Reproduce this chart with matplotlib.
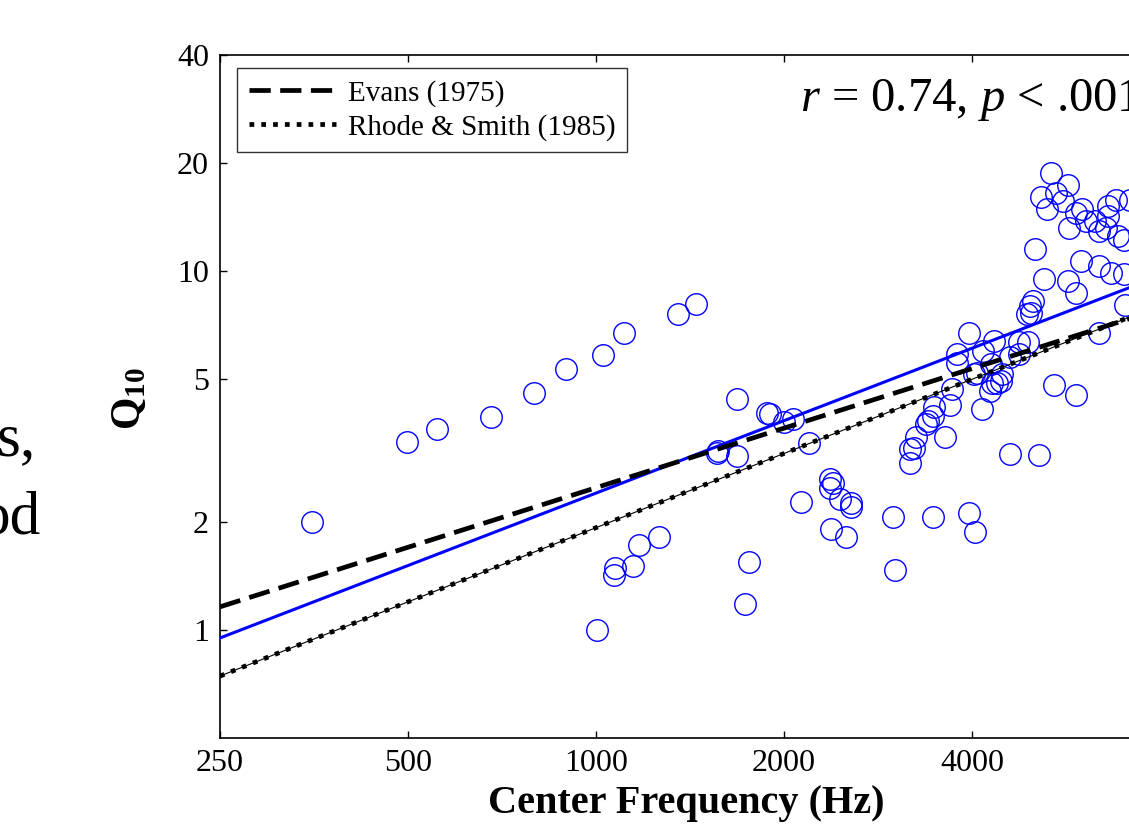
import matplotlib
matplotlib.use("Agg")
import matplotlib.pyplot as plt
import numpy as np

plt.rcParams["font.family"] = ["Liberation Serif", "DejaVu Serif"]
plt.rcParams["mathtext.fontset"] = "custom"
plt.rcParams["mathtext.rm"] = "Liberation Serif"
plt.rcParams["mathtext.it"] = "Liberation Serif:italic"
plt.rcParams["mathtext.bf"] = "Liberation Serif:bold"

# measured tuning data: center frequency (Hz) and Q10
freq = [351, 499, 556, 679, 796, 895, 1025, 1110, 1355, 1448,
        1002, 1067, 1072, 1148, 1173, 1262,
        1680, 1880, 1900, 2000, 2068, 1560, 1570, 1680, 2195,
        1760, 1730, 2130, 2373, 2395, 2370, 2457, 2563, 2563, 2380, 2517,
        2990, 3010, 3465, 3955, 4050,
        3188, 3188, 3250, 3373, 3400, 3480, 3617, 3695, 3710, 4150, 3780, 4030, 4280, 4300,
        3955, 4340, 4925, 4970, 4950, 3786, 4070, 4290, 4388, 4597, 4750, 3465, 3230,
        4608, 5125,
        5355, 5705, 5150, 5460, 5590, 5270, 5990, 5880, 6100, 6300, 5730, 6615, 6800,
        6615, 6400, 6560, 6850, 7000, 7150,
        5050, 5970, 6380, 6680, 7000, 5220, 5705, 5880, 5000, 4900, 7030,
        4750, 4170, 4470, 4450, 5420, 5880, 6400]
q10 = [2.00, 3.34, 3.63, 3.91, 4.56, 5.32, 5.82, 6.70, 7.61, 8.12,
       1.00, 1.42, 1.49, 1.51, 1.72, 1.81,
       4.40, 4.02, 4.00, 3.80, 3.87, 3.11, 3.15, 3.06, 3.32,
       1.55, 1.18, 2.28, 2.63, 2.57, 2.49, 2.31, 2.26, 2.20, 1.91, 1.81,
       2.06, 1.47, 2.06, 2.12, 1.88,
       2.92, 3.19, 3.44, 3.74, 3.83, 4.19, 3.44, 4.24, 4.68, 4.12, 5.56, 5.17, 4.64, 4.89,
       6.73, 6.38, 6.36, 7.66, 8.00, 5.87, 5.19, 5.50, 4.89, 5.77, 5.87, 3.95, 3.22,
       3.10, 3.07,
       18.75, 17.36, 16.1, 16.45, 15.7, 14.88, 14.88, 14.5, 13.8, 13.8, 13.2, 15.2, 15.8,
       14.2, 12.9, 13.2, 12.5, 12.2, 15.8,
       11.5, 10.7, 10.3, 9.9, 9.8, 9.5, 9.4, 8.68, 8.26, 7.6, 8.04,
       6.35, 5.99, 5.16, 4.94, 4.81, 4.52, 6.70]

# straight lines in log-log space, given by their end values
line_freq = [250, 8000]
fit_q = [0.95, 9.7]
evans_q = [1.16, 7.84]
rhode_q = [0.744, 8.04]

xticks = [250, 500, 1000, 2000, 4000, 8000]
yticks = [1, 2, 5, 10, 20, 40]

W, H = 1129, 824
fig = plt.figure(figsize=(W / 100, H / 100), dpi=100)
# axes runs past the right edge, as in the cropped reference
ax = fig.add_axes([220 / W, 1 - 738 / H, 1128 / W, 683 / H])
ax.set_xscale("log"); ax.set_yscale("log")
ax.set_xlim(250, 16000); ax.set_ylim(0.5, 40)

ax.plot(freq, q10, "o", mfc="none", mec="#0000ff", ms=15.5, mew=1.0, zorder=3)
ax.plot(line_freq, fit_q, color="#0000ff", lw=2.2, zorder=4)
ev, = ax.plot(line_freq, evans_q, color="black", lw=3.4, dashes=(4.5, 2.0),
              dash_capstyle="butt", label="Evans (1975)", zorder=5)
ax.plot(line_freq, rhode_q, color="black", lw=0.8, zorder=5)
rs, = ax.plot(line_freq, rhode_q, color="black", lw=3.4, dashes=(1.0, 1.5),
              dash_capstyle="butt", label="Rhode & Smith (1985)", zorder=5)

ax.set_xticks(xticks); ax.set_xticklabels([str(t) for t in xticks])
ax.set_yticks(yticks); ax.set_yticklabels([str(t) for t in yticks])
ax.minorticks_off()
ax.tick_params(direction="in", length=5, width=1, top=True, right=True,
               labelsize=23, pad=8)
for s in ax.spines.values():
    s.set_linewidth(1.2)

fig.text(686 / W, 1 - 804 / H, "Center Frequency (Hz)", fontsize=29, fontweight="bold",
         ha="center", va="center")
fig.text(130 / W, 1 - 399 / H, r"$\mathbf{Q}_{\mathbf{10}}$", fontsize=30, rotation=90,
         ha="center", va="center")

leg = ax.legend(handles=[ev, rs], loc="upper left", bbox_to_anchor=(0.015, 0.981),
                fontsize=21, frameon=True, fancybox=False, edgecolor="black",
                handlelength=3.0, borderpad=0.4, labelspacing=0.25, handletextpad=0.4,
                borderaxespad=0)
leg.get_frame().set_linewidth(1.0)

ax.text((800 - 220) / 1128, (738 - 100) / 683, r"$r$ = 0.74, $p$ < .001", fontsize=35,
        transform=ax.transAxes, ha="left", va="center")

# remnants of slide text cut at the left edge
fig.text(36 / W, 1 - 455 / H, "s,", fontsize=44, ha="right", va="baseline")
fig.text(41 / W, 1 - 533 / H, "od", fontsize=44, ha="right", va="baseline")

fig.savefig("out.png", dpi=100)
